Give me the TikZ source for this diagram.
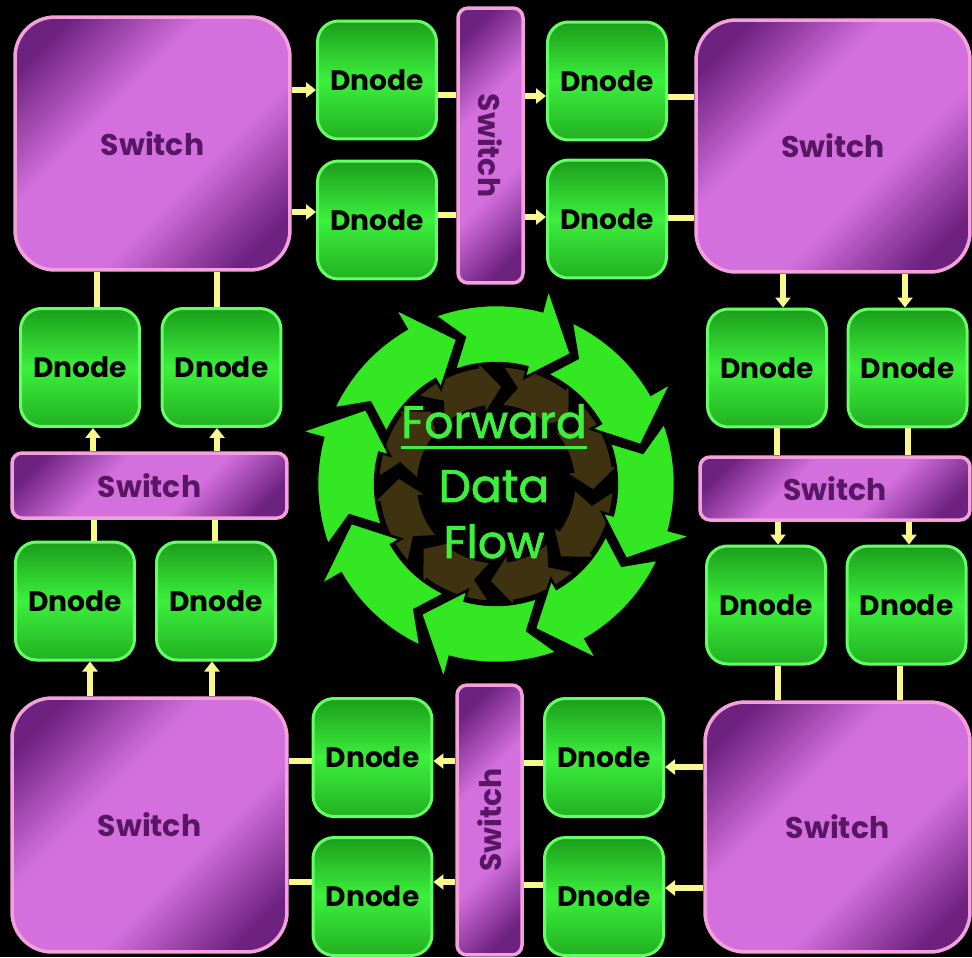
\documentclass[tikz,border=0pt]{standalone}
\usepackage{fontspec}
\setmainfont{Poppins}
\usepackage{graphicx}
\usetikzlibrary{arrows.meta,calc}
\definecolor{swdark}{RGB}{110,34,128}
\definecolor{swlight}{RGB}{212,112,222}
\definecolor{swborder}{RGB}{244,160,220}
\definecolor{swtext}{RGB}{88,22,100}
\definecolor{dntop}{RGB}{28,158,28}
\definecolor{dnmid}{RGB}{60,240,60}
\definecolor{dnbot}{RGB}{34,176,34}
\definecolor{dnborder}{RGB}{100,255,100}
\definecolor{wirecol}{RGB}{248,248,140}
\definecolor{ringgreen}{RGB}{51,232,34}
\definecolor{ringbrown}{RGB}{62,50,16}
\definecolor{flowcol}{RGB}{60,240,60}
\pgfdeclarehorizontalshading{swsh}{100bp}{color(0bp)=(swdark); color(22bp)=(swdark); color(40bp)=(swlight); color(60bp)=(swlight); color(78bp)=(swdark); color(100bp)=(swdark)}
\tikzset{
  sw/.style={draw=swborder, line width=0.07cm, shading=swsh, shading angle=-45, text=swtext, font=\bfseries\fontsize{17}{20}\selectfont, inner sep=0pt},
  bigsw/.style={sw, rounded corners=0.8cm},
  barsw/.style={sw, rounded corners=0.2cm},
  dnode/.style={draw=dnborder, line width=0.06cm, top color=dntop, bottom color=dnbot, middle color=dnmid, rounded corners=0.42cm, minimum width=2.38cm, minimum height=2.36cm, font=\bfseries\fontsize{16}{19}\selectfont, text=black, inner sep=0pt},
  wire/.style={draw=wirecol, line width=0.11cm},
  arr/.style={wire, -{Triangle[length=0.2cm,width=0.3cm]}},
  flow/.style={text=flowcol, font=\fontsize{26}{30}\selectfont\addfontfeature{FakeBold=1.5}, inner sep=0pt},
  ringarrow/.style={fill=ringgreen, draw=black, line width=0.05cm},
  brownarrow/.style={fill=ringbrown, draw=black, line width=0.05cm}
}
\begin{document}
\begin{tikzpicture}[x=0.02cm,y=-0.02cm]
\fill[black] (0,0) rectangle (972,957);
\useasboundingbox (0,0) rectangle (972,957);

% circular arrows
\begin{scope}[shift={(496,484)}]
  \foreach \k in {0,...,7}{
    \pgfmathsetmacro\a{132-45*\k}
    \path[brownarrow] (\a:2.36cm) arc[start angle=\a, end angle=\a-33, radius=2.36cm]
      -- (\a-33:2.52cm) -- (\a-46:1.95cm) -- (\a-33:1.4cm) -- (\a-33:1.56cm)
      arc[start angle=\a-33, end angle=\a, radius=1.56cm] -- (\a-9:1.96cm) -- cycle;
  }
  \foreach \k in {0,...,7}{
    \pgfmathsetmacro\a{155-45*\k}
    \path[ringarrow] (\a:3.58cm) arc[start angle=\a, end angle=\a-35, radius=3.58cm]
      -- (\a-35:4.05cm) -- (\a-50:3.0cm) -- (\a-35:2.2cm) -- (\a-35:2.42cm)
      arc[start angle=\a-35, end angle=\a, radius=2.42cm] -- (\a-8:3.0cm) -- cycle;
  }
\end{scope}

\node[flow, anchor=base] (fwd) at (494,438) {Forward};
\node[flow, anchor=base] (data) at (494,502) {Data};
\node[flow, anchor=base] (flw) at (494,558) {Flow};
\draw[flowcol, line width=0.06cm] ($(fwd.base west)+(0,9)$) -- ($(fwd.base east)+(0,9)$);

% big switches
\node[bigsw, minimum width=5.5cm, minimum height=5.06cm] (TL) at (152.5,143.5) {Switch};
\node[bigsw, minimum width=5.48cm, minimum height=5.04cm] (TR) at (833,146) {Switch};
\node[bigsw, minimum width=5.5cm, minimum height=5.08cm] (BL) at (149.5,825) {Switch};
\node[bigsw, minimum width=5.3cm, minimum height=5.0cm] (BR) at (837.5,827) {Switch};

% bar switches
\node[barsw, minimum width=1.3cm, minimum height=5.5cm] (Tbar) at (490.5,145.5) {\rotatebox{-90}{Switch}};
\node[barsw, minimum width=1.3cm, minimum height=5.4cm] (Bbar) at (489.5,820) {\rotatebox{90}{Switch}};
\node[barsw, minimum width=5.5cm, minimum height=1.3cm] (Lbar) at (149.5,485.5) {Switch};
\node[barsw, minimum width=5.4cm, minimum height=1.26cm] (Rbar) at (835,488.5) {Switch};

% Dnodes
\node[dnode] (T11) at (377,80) {Dnode};
\node[dnode] (T21) at (377,220) {Dnode};
\node[dnode] (T12) at (607,81) {Dnode};
\node[dnode] (T22) at (607,219) {Dnode};
\node[dnode] (L11) at (80,367.5) {Dnode};
\node[dnode] (L12) at (221.5,367.5) {Dnode};
\node[dnode] (L21) at (75,601) {Dnode};
\node[dnode] (L22) at (216,601) {Dnode};
\node[dnode] (R11) at (767,368) {Dnode};
\node[dnode] (R12) at (907.5,368) {Dnode};
\node[dnode] (R21) at (766,605) {Dnode};
\node[dnode] (R22) at (906.5,605) {Dnode};
\node[dnode] (B11) at (372.5,757.5) {Dnode};
\node[dnode] (B21) at (372.5,896.5) {Dnode};
\node[dnode] (B12) at (604,757.5) {Dnode};
\node[dnode] (B22) at (604,896.5) {Dnode};

% top connectors
\draw[arr] ($(TL.east |- T11.west)+(0,10)$) -- ($(T11.west)+(0,10)$);
\draw[wire] ($(T11.east)+(0,15)$) -- ($(Tbar.west |- T11.east)+(0,15)$);
\draw[arr] ($(Tbar.east |- T12.west)+(0,15)$) -- ($(T12.west)+(0,15)$);
\draw[wire] ($(T12.east)+(0,16)$) -- ($(TR.west |- T12.east)+(0,16)$);
\draw[arr] ($(TL.east |- T21.west)+(0,-8)$) -- ($(T21.west)+(0,-8)$);
\draw[wire] ($(T21.east)+(0,-5)$) -- ($(Tbar.west |- T21.east)+(0,-5)$);
\draw[arr] ($(Tbar.east |- T22.west)+(0,-2)$) -- ($(T22.west)+(0,-2)$);
\draw[wire] ($(T22.east)+(0,-1)$) -- ($(TR.west |- T22.east)+(0,-1)$);

% left connectors
\draw[wire] ($(L11.north)+(17,0)$) -- ($(TL.south -| L11.north)+(17,0)$);
\draw[wire] ($(L12.north)+(-4.5,0)$) -- ($(TL.south -| L12.north)+(-4.5,0)$);
\draw[arr] ($(Lbar.north -| L11.south)+(13,0)$) -- ($(L11.south)+(13,0)$);
\draw[arr] ($(Lbar.north -| L12.south)+(-4.5,0)$) -- ($(L12.south)+(-4.5,0)$);
\draw[wire] ($(L21.north)+(19,0)$) -- ($(Lbar.south -| L21.north)+(19,0)$);
\draw[wire] ($(L22.north)+(-1,0)$) -- ($(Lbar.south -| L22.north)+(-1,0)$);
\draw[arr] ($(BL.north -| L21.south)+(15,0)$) -- ($(L21.south)+(15,0)$);
\draw[arr] ($(BL.north -| L22.south)+(-4,0)$) -- ($(L22.south)+(-4,0)$);

% right connectors
\draw[arr] ($(TR.south -| R11.north)+(16,0)$) -- ($(R11.north)+(16,0)$);
\draw[arr] ($(TR.south -| R12.north)+(-2.5,0)$) -- ($(R12.north)+(-2.5,0)$);
\draw[wire] ($(R11.south)+(10,0)$) -- ($(Rbar.north -| R11.south)+(10,0)$);
\draw[wire] ($(R12.south)+(0.5,0)$) -- ($(Rbar.north -| R12.south)+(0.5,0)$);
\draw[arr] ($(Rbar.south -| R21.north)+(12,0)$) -- ($(R21.north)+(12,0)$);
\draw[arr] ($(Rbar.south -| R22.north)+(2.5,0)$) -- ($(R22.north)+(2.5,0)$);
\draw[wire] ($(R21.south)+(12,0)$) -- ($(BR.north -| R21.south)+(12,0)$);
\draw[wire] ($(R22.south)+(-6.5,0)$) -- ($(BR.north -| R22.south)+(-6.5,0)$);

% bottom connectors
\draw[wire] ($(B11.west)+(0,3.5)$) -- ($(BL.east |- B11.west)+(0,3.5)$);
\draw[arr] ($(Bbar.west |- B11.east)+(0,3.5)$) -- ($(B11.east)+(0,3.5)$);
\draw[wire] ($(B12.west)+(0,5.5)$) -- ($(Bbar.east |- B12.west)+(0,5.5)$);
\draw[arr] ($(BR.west |- B12.east)+(0,9.5)$) -- ($(B12.east)+(0,9.5)$);
\draw[wire] ($(B21.west)+(0,-14.5)$) -- ($(BL.east |- B21.west)+(0,-14.5)$);
\draw[arr] ($(Bbar.west |- B21.east)+(0,-14.5)$) -- ($(B21.east)+(0,-14.5)$);
\draw[wire] ($(B22.west)+(0,-11.5)$) -- ($(Bbar.east |- B22.west)+(0,-11.5)$);
\draw[arr] ($(BR.west |- B22.east)+(0,-8.5)$) -- ($(B22.east)+(0,-8.5)$);
\end{tikzpicture}
\end{document}
